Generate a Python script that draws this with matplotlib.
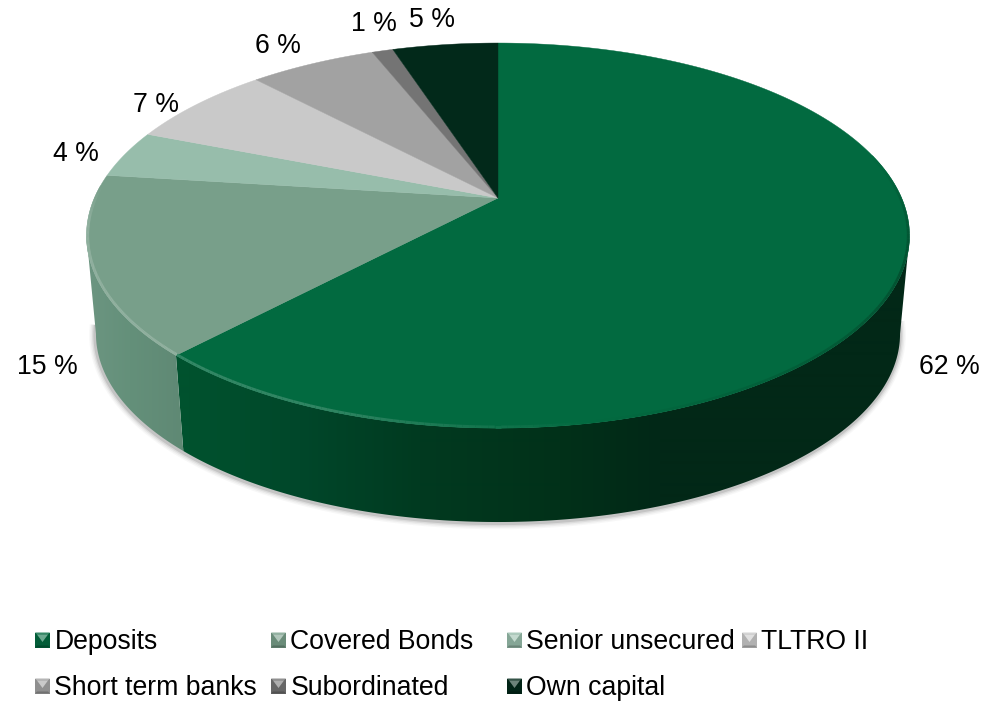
import numpy as np
import matplotlib
matplotlib.use("Agg")
import matplotlib.pyplot as plt
from matplotlib.patches import Polygon
from matplotlib.collections import LineCollection
from matplotlib.colors import to_rgb

plt.rcParams['font.family'] = ['Liberation Sans', 'DejaVu Sans']

# Funding mix, clockwise from twelve o'clock
names = ["Deposits", "Covered Bonds", "Senior unsecured", "TLTRO II",
         "Short term banks", "Subordinated", "Own capital"]
shares = [62, 15, 4, 7, 6, 1, 5]
top_colors = ["#026a40", "#789f8a", "#97bdab", "#c9c9c9",
              "#a2a2a2", "#747474", "#02291a"]

# Baseline position of each percentage on the canvas
label_xy = [(949, 374), (47, 374), (76, 161), (156, 112),
            (278, 53), (374, 31), (432, 27)]

# Pie geometry in pixels: a tilted disc seen in perspective
CX, CY = 498.0, 198.0
A, B, K = 403.6, 185.2, -0.195
SHRINK, DROP = 0.977, 103.8
# middle of the drawn ellipse, not the same as the apex
MID_Y = 235.5

FS = 19.2


def top_rim(theta):
    x = np.sin(np.radians(theta))
    y = -np.cos(np.radians(theta))
    d = 1 + K * y
    return CX + A * x / d, CY + B * y / d


def bottom_rim(theta):
    x, y = top_rim(theta)
    return CX + (x - CX) * SHRINK, y * SHRINK + DROP


def mix(c1, c2, t):
    c1, c2 = np.array(to_rgb(c1)), np.array(to_rgb(c2))
    return tuple(c1 + (c2 - c1) * t)


fig = plt.figure(figsize=(9.82, 7.01), dpi=100)
ax = fig.add_axes([0, 0, 1, 1])

edges = np.cumsum([0] + shares) * 3.6
# the wall is only visible between the two tangent points of the disc
th_right = np.degrees(np.arccos(K))
th_left = 360 - th_right

# soft shadow under the disc
ts = np.linspace(th_right - 4, th_left + 3, 300)
bx, by = bottom_rim(ts)
for w, al in [(9, 0.05), (7, 0.08), (5, 0.12), (3, 0.22)]:
    ax.plot(bx - 0.5, by + 1, color="#707070", lw=w, alpha=al, zorder=1,
            solid_capstyle="butt")

# side walls of the two front slices, shaded left to right
wall_ramps = {
    0: ([190, 300, 420, 560, 660, 910], ["#00522e", "#00472a", "#013a20", "#013119", "#022817", "#022817"]),
    1: ([88, 130, 195], ["#6c9581", "#64907a", "#5e8773"]),
}
for i, (xs, cs) in wall_ramps.items():
    a, b = max(edges[i], th_right), min(edges[i + 1], th_left)
    th = np.linspace(a, b, 300)
    x1, y1 = top_rim(th)
    x2, y2 = bottom_rim(th[::-1])
    wall = Polygon(np.c_[np.r_[x1, x2], np.r_[y1, y2]], closed=True,
                   fc="none", ec="none", zorder=2)
    ax.add_patch(wall)
    cols = np.arange(982) + 0.5
    rgb = np.array([to_rgb(c) for c in cs])
    ramp = np.stack([np.interp(cols, xs, rgb[:, k]) for k in range(3)], axis=-1)
    im = ax.imshow(ramp[np.newaxis, :, :], extent=(0, 982, 701, 0), aspect="auto",
                   interpolation="bilinear", zorder=2)
    im.set_clip_path(wall)

# top faces
for i in range(len(shares)):
    th = np.linspace(edges[i], edges[i + 1], 200)
    rx, ry = top_rim(th)
    ax.add_patch(Polygon(np.c_[np.r_[CX, rx], np.r_[CY, ry]], closed=True,
                         fc=top_colors[i], ec=top_colors[i], lw=0.3, zorder=3))

# bevel along the front rim: light on the lower left, dark on the right
for i in range(2):
    a, b = max(edges[i], th_right - 25), min(edges[i + 1], th_left + 15)
    th = np.linspace(a, b, 200)
    rx, ry = top_rim(th)
    # pull the line just inside the edge
    pts = np.c_[CX + (rx - CX) * 0.997, MID_Y + (ry - MID_Y) * 0.994]
    segs = np.stack([pts[:-1], pts[1:]], axis=1)
    seg_cols = []
    for t in (th[:-1] + th[1:]) / 2:
        if t < 170:
            seg_cols.append(mix(top_colors[i], "#012a18", np.interp(t, [76, 110, 170], [0, 0.4, 0])))
        else:
            light = np.interp(t, [170, 200, 262, 274], [0.0, 0.18, 0.22, 0.0])
            seg_cols.append(mix(top_colors[i], "#ffffff", light))
    ax.add_collection(LineCollection(segs, colors=seg_cols, linewidths=2, zorder=4))

for s, xy in zip(shares, label_xy):
    ax.text(xy[0], xy[1], f"{s} %", fontsize=FS, color="#000000",
            ha="center", va="baseline", zorder=5)


# Legend, four columns with small bevelled swatches
def swatch(x, y, color):
    sz = 15
    x0, x1, xm = x, x + sz, x + sz / 2
    y0, y1, ym = y - sz / 2, y + sz / 2, y
    ins = 2
    ax.add_patch(Polygon([(x0, y0), (x1, y0), (x1, y1), (x0, y1)],
                         fc=mix(color, "#000000", 0.12), ec="none", zorder=5))
    ax.add_patch(Polygon([(x0, y1), (x1, y1), (x1 - ins, y1 - ins), (x0 + ins, y1 - ins)],
                         fc=mix(color, "#000000", 0.3), ec="none", zorder=6))
    ax.add_patch(Polygon([(x0, y0), (x1, y0), (x1 - ins, y0 + ins), (x0 + ins, y0 + ins)],
                         fc=mix(color, "#ffffff", 0.2), ec="none", zorder=6))
    ax.add_patch(Polygon([(x0 + ins, y0 + ins), (x1 - ins, y0 + ins), (xm, ym + 2)],
                         fc=mix(color, "#ffffff", 0.42), ec="none", zorder=6))


col_x = [35, 271, 507, 742]
row_y = [640, 686]
for i, (name, color) in enumerate(zip(names, top_colors)):
    lx = col_x[i % 4]
    ly = row_y[i // 4]
    swatch(lx, ly, color)
    ax.text(lx + 19.5, ly + 9, name, fontsize=FS, color="#000000",
            ha="left", va="baseline", zorder=7)

ax.set_xlim(0, 982)
ax.set_ylim(701, 0)
ax.axis("off")

fig.savefig("out.png", dpi=100, facecolor="white")
